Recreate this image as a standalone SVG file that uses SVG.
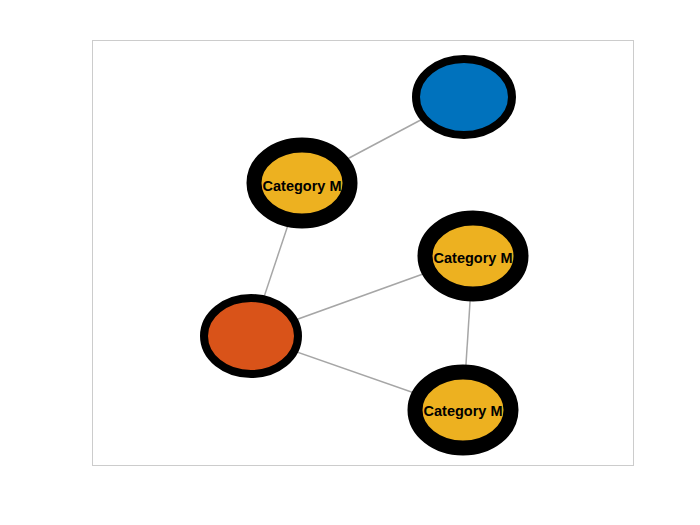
<svg xmlns="http://www.w3.org/2000/svg" width="700" height="525" viewBox="0 0 700 525">
<style>
.edge{stroke:#a6a6a6;stroke-width:1.5;fill:none}
.n{stroke:#000}
.thin{stroke-width:8}
.thick{stroke-width:15}
.lbl{font-family:"Liberation Sans",Arial,sans-serif;font-weight:bold;font-size:14.5px;fill:#000;text-anchor:middle}
</style>
<rect x="0" y="0" width="700" height="525" fill="#fff"/>
<rect x="92.5" y="40.5" width="541" height="425" fill="#fff" stroke="#cccccc" stroke-width="1"/>
<g id="edges">
<line class="edge" x1="464" y1="97" x2="302" y2="183"/>
<line class="edge" x1="302" y1="183" x2="251" y2="336"/>
<line class="edge" x1="251" y1="336" x2="473" y2="256"/>
<line class="edge" x1="251" y1="336" x2="463" y2="410"/>
<line class="edge" x1="473" y1="256" x2="463" y2="410"/>
</g>
<g id="node-blue">
<ellipse class="n thin" cx="464" cy="97" rx="48" ry="38" fill="#0072BD"/>
</g>
<g id="node-orange">
<ellipse class="n thin" cx="251" cy="336" rx="47" ry="38" fill="#D95319"/>
</g>
<g id="node-cat1">
<ellipse class="n thick" cx="302" cy="183" rx="48" ry="38" fill="#EDB120"/>
<text class="lbl" x="302" y="191">Category M</text>
</g>
<g id="node-cat2">
<ellipse class="n thick" cx="473" cy="256" rx="48" ry="38" fill="#EDB120"/>
<text class="lbl" x="473" y="263">Category M</text>
</g>
<g id="node-cat3">
<ellipse class="n thick" cx="463" cy="410" rx="48" ry="38" fill="#EDB120"/>
<text class="lbl" x="463" y="416">Category M</text>
</g>
</svg>
